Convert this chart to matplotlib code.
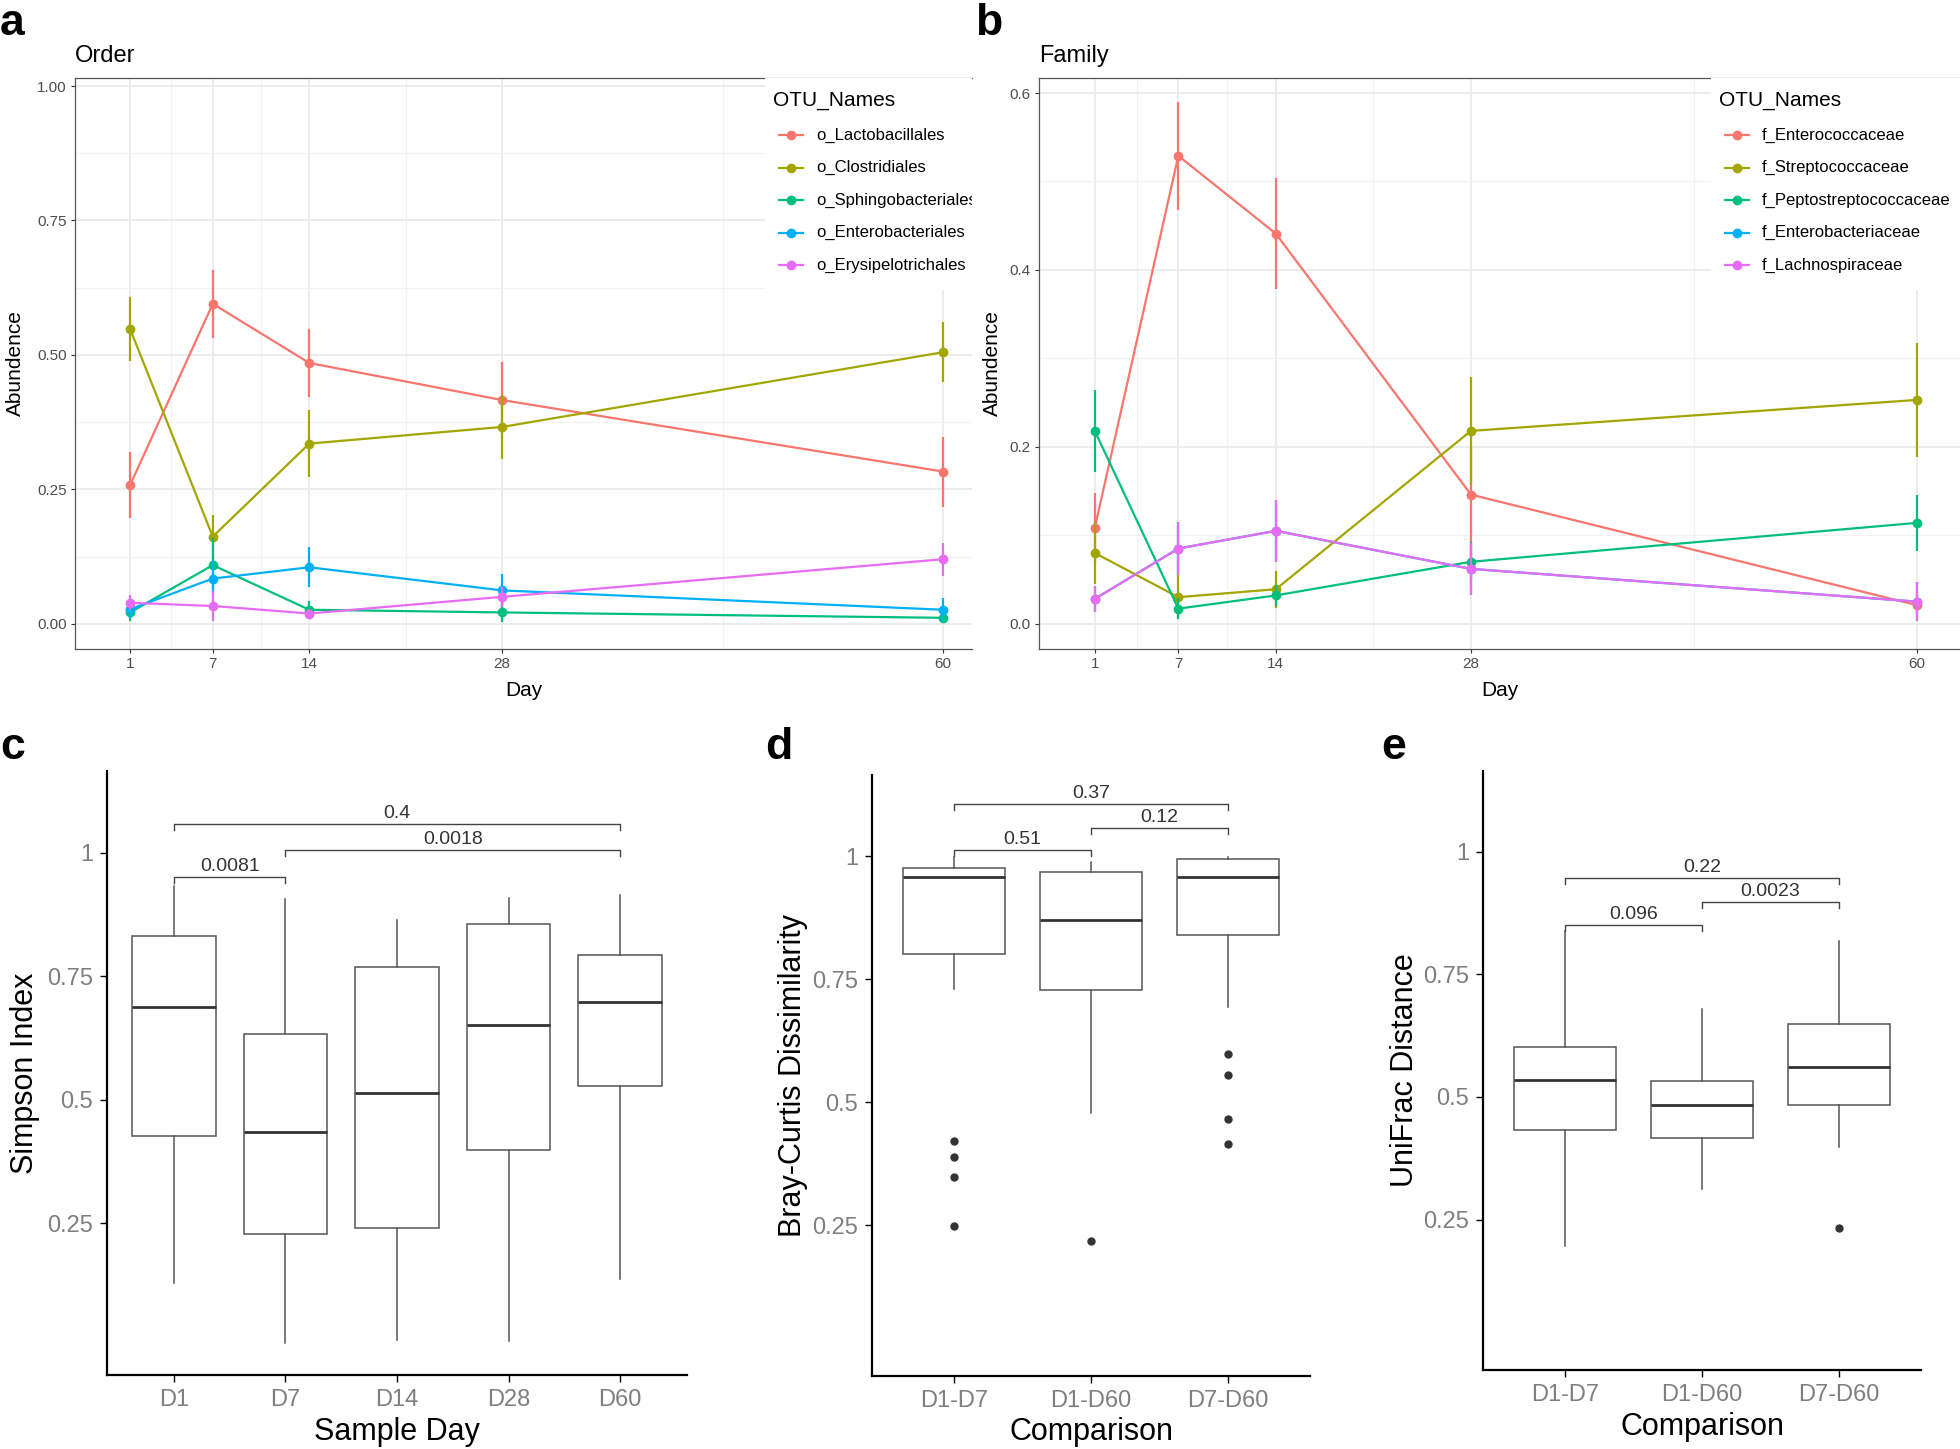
import matplotlib

matplotlib.use("Agg")
import matplotlib.pyplot as plt
import numpy as np

plt.rcParams["font.family"] = ["Liberation Sans", "DejaVu Sans"]

W, H = 1960, 1449
HUE = ["#F8766D", "#A3A500", "#00BF7D", "#00B0F6", "#E76BF3"]
GRID = "#EBEBEB"
TICK_GREY = "#4D4D4D"
BOX_GREY = "#7F7F7F"

# ---- panel a/b : relative abundance over time ----
days = [1, 7, 14, 28, 60]

order_names = ["o_Lactobacillales", "o_Clostridiales", "o_Sphingobacteriales",
               "o_Enterobacteriales", "o_Erysipelotrichales"]
lacto_mean = [0.258, 0.595, 0.485, 0.416, 0.283]
lacto_err = [0.061, 0.063, 0.064, 0.070, 0.065]
clost_mean = [0.548, 0.162, 0.335, 0.366, 0.505]
clost_err = [0.059, 0.041, 0.062, 0.059, 0.056]
sphingo_mean = [0.021, 0.109, 0.026, 0.021, 0.011]
sphingo_err = [0.016, 0.050, 0.016, 0.017, 0.009]
entero_o_mean = [0.027, 0.084, 0.105, 0.062, 0.026]
entero_o_err = [0.016, 0.032, 0.037, 0.030, 0.022]
erysi_mean = [0.039, 0.033, 0.019, 0.050, 0.120]
erysi_err = [0.014, 0.027, 0.009, 0.019, 0.031]

family_names = ["f_Enterococcaceae", "f_Streptococcaceae", "f_Peptostreptococcaceae",
                "f_Enterobacteriaceae", "f_Lachnospiraceae"]
enteroc_mean = [0.108, 0.529, 0.441, 0.146, 0.021]
enteroc_err = [0.040, 0.061, 0.063, 0.054, 0.012]
strep_mean = [0.080, 0.030, 0.039, 0.218, 0.253]
strep_err = [0.035, 0.025, 0.021, 0.061, 0.064]
pepto_mean = [0.218, 0.017, 0.032, 0.070, 0.114]
pepto_err = [0.046, 0.012, 0.012, 0.022, 0.032]
enterob_f_mean = [0.028, 0.085, 0.105, 0.062, 0.025]
enterob_f_err = [0.015, 0.030, 0.035, 0.029, 0.022]
lachno_mean = [0.028, 0.085, 0.105, 0.062, 0.025]
lachno_err = [0.015, 0.030, 0.035, 0.029, 0.022]

# ---- panel c : Simpson index by day ----
c_labels = ["D1", "D7", "D14", "D28", "D60"]
c_whislo = [0.130, 0.007, 0.014, 0.012, 0.137]
c_q1 = [0.426, 0.228, 0.240, 0.398, 0.528]
c_med = [0.687, 0.435, 0.513, 0.652, 0.698]
c_q3 = [0.831, 0.633, 0.768, 0.856, 0.793]
c_whishi = [0.932, 0.906, 0.864, 0.909, 0.914]
c_pairs = [(1, 2), (2, 5), (1, 5)]
c_pvals = ["0.0081", "0.0018", "0.4"]
c_levels = [0.950, 1.005, 1.057]

# ---- panel d : Bray-Curtis ----
cmp_labels = ["D1-D7", "D1-D60", "D7-D60"]
d_whislo = [0.730, 0.477, 0.693]
d_q1 = [0.802, 0.728, 0.839]
d_med = [0.957, 0.870, 0.957]
d_q3 = [0.976, 0.968, 0.994]
d_whishi = [0.998, 0.989, 0.998]
d_fliers = [[0.420, 0.389, 0.348, 0.248], [0.217], [0.598, 0.556, 0.465, 0.414]]
d_pairs = [(1, 2), (2, 3), (1, 3)]
d_pvals = ["0.51", "0.12", "0.37"]
d_levels = [1.012, 1.058, 1.106]

# ---- panel e : UniFrac ----
e_whislo = [0.195, 0.313, 0.398]
e_q1 = [0.433, 0.417, 0.484]
e_med = [0.535, 0.483, 0.562]
e_q3 = [0.601, 0.532, 0.648]
e_whishi = [0.838, 0.680, 0.819]
e_fliers = [[], [], [0.232]]
e_pairs = [(1, 2), (2, 3), (1, 3)]
e_pvals = ["0.096", "0.0023", "0.22"]
e_levels = [0.851, 0.898, 0.947]


def px_axes(fig, left, top, right, bottom, **kw):
    return fig.add_axes([left / W, 1 - bottom / H, (right - left) / W, (bottom - top) / H], **kw)


def line_panel(fig, rect, legend_rect, title, means, errs, names, ylim, yticks, ylabels,
               yminor, xlim, ylab_x):
    ax = px_axes(fig, *rect)
    for m, e, col in zip(means, errs, HUE):
        m = np.asarray(m)
        e = np.asarray(e)
        ax.vlines(days, m - e, m + e, color=col, lw=1.6, zorder=3)
        ax.plot(days, m, color=col, lw=1.6, marker="o", ms=6, zorder=3)
    ax.set_xlim(*xlim)
    ax.set_ylim(*ylim)
    ax.set_xticks(days)
    ax.set_xticklabels([str(d) for d in days])
    ax.set_xticks([4, 10.5, 21, 44], minor=True)
    ax.set_yticks(yticks)
    ax.set_yticklabels(ylabels)
    ax.set_yticks(yminor, minor=True)
    ax.grid(which="major", color=GRID, lw=1.3, zorder=0)
    ax.grid(which="minor", color="#F2F2F2", lw=0.8, zorder=0)
    ax.set_axisbelow(True)
    ax.tick_params(which="major", length=3, width=0.8, color="#333333",
                   labelsize=11, labelcolor=TICK_GREY, pad=3)
    ax.tick_params(which="minor", length=0)
    for s in ax.spines.values():
        s.set_color("#555555")
        s.set_linewidth(0.9)
    ax.spines["right"].set_visible(False)
    ax.set_xlabel("Day", fontsize=15)
    ax.xaxis.set_label_coords(0.5, -0.072)
    ax.xaxis.label.set_va("center")
    ax.set_ylabel("Abundence", fontsize=15)
    ax.yaxis.set_label_coords(ylab_x, 0.5)
    ax.yaxis.label.set_va("center")
    ax.text(0, 1.02, title, transform=ax.transAxes, fontsize=17, va="bottom", ha="left")

    # legend drawn on its own white box, overlapping the panel like the original
    lg = px_axes(fig, *legend_rect)
    lg.set_facecolor("white")
    lg.set_xlim(0, legend_rect[2] - legend_rect[0])
    lg.set_ylim(legend_rect[3] - legend_rect[1], 0)
    lg.set_xticks([])
    lg.set_yticks([])
    for s in lg.spines.values():
        s.set_visible(False)
    lg.text(8, 23, "OTU_Names", fontsize=15, va="center", ha="left", clip_on=True)
    for i, (nm, col) in enumerate(zip(names, HUE)):
        yy = 57 + 32.5 * i
        lg.plot([14, 38], [yy, yy], color=col, lw=1.6)
        lg.plot([26], [yy], color=col, marker="o", ms=6)
        lg.text(51, yy, nm, fontsize=12, va="center", ha="left", clip_on=True)
    return ax


def box_panel(fig, rect, labels, whislo, q1, med, q3, whishi, fliers, pairs, pvals, levels,
              ylabel, xlabel, xlab_y, ylab_x):
    ax = px_axes(fig, *rect)
    stats = []
    for i in range(len(labels)):
        stats.append(dict(whislo=whislo[i], q1=q1[i], med=med[i], q3=q3[i],
                          whishi=whishi[i], fliers=fliers[i] if fliers else []))
    ax.bxp(stats, positions=range(1, len(labels) + 1), widths=0.75, showcaps=False,
           patch_artist=True,
           boxprops=dict(facecolor="white", edgecolor="#555555", lw=1.1),
           whiskerprops=dict(color="#555555", lw=1.1),
           medianprops=dict(color="#333333", lw=2.0),
           flierprops=dict(marker="o", markerfacecolor="#333333", markeredgecolor="#333333",
                           markersize=5))
    for (a, b), p, lvl in zip(pairs, pvals, levels):
        ax.plot([a, a, b, b], [lvl - 0.012, lvl, lvl, lvl - 0.012], color="#444444", lw=1.0)
        ax.text((a + b) / 2, lvl + 0.004, p, ha="center", va="bottom", fontsize=14,
                color="#333333")
    ax.set_xlim(0.4, len(labels) + 0.6)
    ax.set_ylim(-0.057, 1.165)
    ax.set_xticks(range(1, len(labels) + 1))
    ax.set_xticklabels(labels)
    ax.set_yticks([0.25, 0.5, 0.75, 1.0])
    ax.set_yticklabels(["0.25", "0.5", "0.75", "1"])
    ax.tick_params(length=5, width=1.0, labelsize=17, labelcolor=BOX_GREY, pad=5)
    for side in ["top", "right"]:
        ax.spines[side].set_visible(False)
    for side in ["left", "bottom"]:
        ax.spines[side].set_linewidth(1.6)
        ax.spines[side].set_color("black")
    ax.set_xlabel(xlabel, fontsize=22)
    ax.xaxis.set_label_coords(0.5, xlab_y)
    ax.xaxis.label.set_va("center")
    ax.set_ylabel(ylabel, fontsize=22)
    ax.yaxis.set_label_coords(ylab_x, 0.5)
    ax.yaxis.label.set_va("center")
    return ax


fig = plt.figure(figsize=(W / 100, H / 100), dpi=100)

order_means = [lacto_mean, clost_mean, sphingo_mean, entero_o_mean, erysi_mean]
order_errs = [lacto_err, clost_err, sphingo_err, entero_o_err, erysi_err]
family_means = [enteroc_mean, strep_mean, pepto_mean, enterob_f_mean, lachno_mean]
family_errs = [enteroc_err, strep_err, pepto_err, enterob_f_err, lachno_err]

line_panel(fig, (75, 78, 972, 649), (765, 78, 972, 290), "Order", order_means,
           order_errs, order_names, (-0.047, 1.015), [0, 0.25, 0.5, 0.75, 1.0],
           ["0.00", "0.25", "0.50", "0.75", "1.00"], [0.125, 0.375, 0.625, 0.875],
           (-3, 62.1), -0.066)

line_panel(fig, (1039, 78, 1960, 649), (1711, 78, 1960, 290), "Family", family_means,
           family_errs, family_names, (-0.0286, 0.617), [0, 0.2, 0.4, 0.6],
           ["0.0", "0.2", "0.4", "0.6"], [0.1, 0.3, 0.5], (-3, 63.1), -0.051)

box_panel(fig, (107, 771, 687, 1375), c_labels, c_whislo, c_q1, c_med, c_q3, c_whishi,
          None, c_pairs, c_pvals, c_levels, "Simpson Index", "Sample Day", -0.095, -0.141)
box_panel(fig, (872, 775, 1310, 1376), cmp_labels, d_whislo, d_q1, d_med, d_q3, d_whishi,
          d_fliers, d_pairs, d_pvals, d_levels, "Bray-Curtis Dissimilarity", "Comparison",
          -0.094, -0.181)
box_panel(fig, (1483, 771, 1921, 1370), cmp_labels, e_whislo, e_q1, e_med, e_q3, e_whishi,
          e_fliers, e_pairs, e_pvals, e_levels, "UniFrac Distance", "Comparison",
          -0.095, -0.178)

for letter, x, y in [("a", 0, 35), ("b", 975, 35), ("c", 0, 759), ("d", 765, 759),
                     ("e", 1381, 759)]:
    fig.text(x / W, 1 - y / H, letter, fontsize=32, fontweight="bold", ha="left",
             va="baseline")

fig.savefig("out.png", dpi=100)
